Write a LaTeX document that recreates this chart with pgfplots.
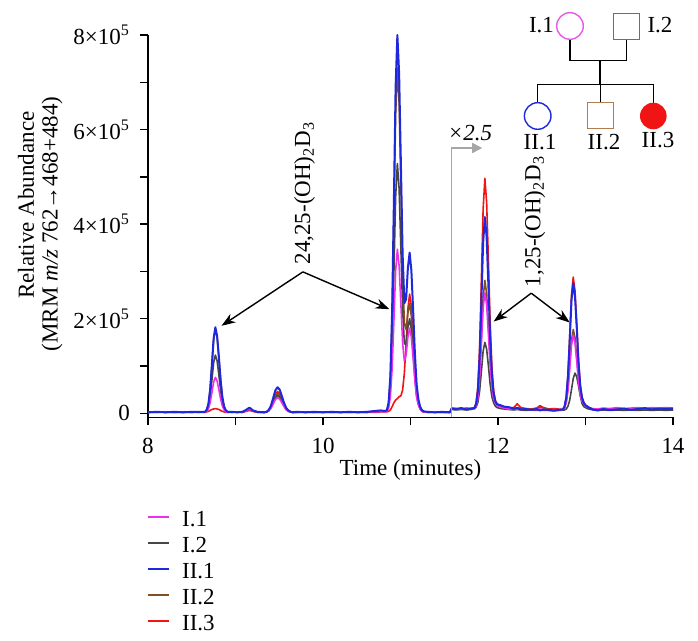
\documentclass[border=0pt]{standalone}
\usepackage{fontspec}
\setmainfont{Liberation Serif}
\usepackage{pgfplots}
\pgfplotsset{compat=1.18}
\usetikzlibrary{arrows.meta}
\definecolor{cI1}{RGB}{235,50,235}
\definecolor{cI2}{RGB}{70,70,70}
\definecolor{cII1}{RGB}{30,40,220}
\definecolor{cII2}{RGB}{130,80,35}
\definecolor{cII3}{RGB}{240,20,20}
\definecolor{cI1p}{RGB}{230,90,230}
\definecolor{cI2p}{RGB}{110,110,110}
\definecolor{cII2p}{RGB}{175,125,80}
\begin{document}
\fontsize{11.5}{14}\selectfont
\begin{tikzpicture}
\begin{axis}[
  at={(74pt,111.85pt)}, anchor=south west,
  scale only axis, width=262.5pt, height=191.15pt,
  xmin=8, xmax=14, ymin=-0.085, ymax=8,
  axis x line*=bottom, axis y line*=left,
  axis line style={line width=0.65pt},
  tick align=outside, major tick length=4pt, minor tick length=4pt,
  every tick/.style={line width=0.65pt, black},
  xtick={8,10,12,14}, minor xtick={9,11,13},
  ytick={0,2,4,6,8}, minor ytick={1,3,5,7},
  yticklabels={0,2×10\textsuperscript{5},4×10\textsuperscript{5},6×10\textsuperscript{5},8×10\textsuperscript{5}},
  xticklabel style={yshift=-2.5pt},
  yticklabel style={xshift=-1pt},
  /pgf/number format/assume math mode=true,
  clip=false,
  xlabel={Time (minutes)},
  xlabel style={at={(axis description cs:0.5,-0.153)}, anchor=base},
  ylabel={Relative Abundance},
  ylabel style={at={(axis description cs:-0.2324,0.5553)}, anchor=center},
  legend style={at={(-0.002,-0.234)}, anchor=north west, draw=none, fill=none,
    inner sep=0pt, row sep=0pt, column sep=6pt,
    nodes={inner sep=0pt, text height=9.5pt, text depth=3.5pt}},
  legend cell align=left,
  legend image code/.code={\draw[#1] (0pt,1.5pt) -- (10.5pt,1.5pt);},
]
\addlegendimage{cI1, line width=0.9pt}\addlegendentry{I.1}
\addlegendimage{cI2, line width=0.9pt}\addlegendentry{I.2}
\addlegendimage{cII1, line width=0.9pt}\addlegendentry{II.1}
\addlegendimage{cII2, line width=0.9pt}\addlegendentry{II.2}
\addlegendimage{cII3, line width=0.9pt}\addlegendentry{II.3}

% II.3 (red)
\addplot[cII3, line width=0.8pt, line join=round, forget plot] coordinates {
(8.00,0.02)(8.10,0.03)(8.20,0.02)(8.30,0.02)(8.40,0.03)(8.50,0.02)(8.58,0.02)
(8.65,0.02)(8.67,0.03)(8.69,0.04)(8.71,0.06)(8.73,0.08)(8.75,0.09)(8.77,0.10)(8.79,0.09)(8.81,0.08)(8.83,0.06)(8.85,0.04)(8.87,0.03)(8.89,0.02)(8.91,0.02)
(8.96,0.02)(9.02,0.03)(9.08,0.02)(9.12,0.04)(9.16,0.06)(9.20,0.04)(9.25,0.02)
(9.33,0.02)(9.355,0.03)(9.38,0.06)(9.405,0.14)(9.43,0.27)(9.455,0.40)(9.48,0.46)(9.505,0.42)(9.53,0.31)(9.555,0.19)(9.58,0.10)(9.605,0.05)(9.63,0.03)(9.655,0.02)
(9.70,0.02)(9.80,0.03)(9.90,0.02)(10.00,0.02)(10.10,0.03)(10.20,0.02)(10.30,0.02)(10.40,0.03)(10.50,0.02)(10.60,0.02)(10.66,0.03)(10.70,0.03)
(10.73,0.03)(10.75,0.04)(10.77,0.07)(10.79,0.14)(10.81,0.22)(10.83,0.28)(10.85,0.31)(10.87,0.35)(10.89,0.37)(10.91,0.49)(10.93,0.85)(10.95,1.49)(10.97,2.21)(10.99,2.52)(11.01,2.26)(11.03,1.64)(11.05,0.97)(11.07,0.46)(11.09,0.22)(11.11,0.11)(11.13,0.06)(11.15,0.03)
(11.20,0.02)(11.28,0.02)(11.36,0.03)(11.45,0.02)(11.47,0.11)(11.52,0.10)(11.58,0.09)(11.64,0.11)(11.69,0.10)
(11.73,0.11)(11.75,0.22)(11.77,0.56)(11.79,1.40)(11.81,2.81)(11.83,4.31)(11.85,4.97)(11.87,4.47)(11.89,3.26)(11.91,1.94)(11.93,0.98)(11.95,0.48)(11.97,0.27)(11.99,0.19)
(12.03,0.16)(12.07,0.13)(12.12,0.11)(12.18,0.12)(12.22,0.20)(12.26,0.12)(12.32,0.10)(12.38,0.09)(12.44,0.11)(12.48,0.16)(12.52,0.12)(12.58,0.09)(12.64,0.10)(12.69,0.09)
(12.74,0.08)(12.76,0.14)(12.78,0.34)(12.80,0.82)(12.82,1.64)(12.84,2.50)(12.86,2.88)(12.88,2.59)(12.90,1.89)(12.92,1.13)(12.94,0.61)(12.96,0.34)(12.98,0.23)(13.00,0.17)
(13.04,0.11)(13.08,0.09)(13.14,0.08)(13.20,0.10)(13.28,0.08)(13.36,0.11)(13.44,0.09)(13.52,0.08)(13.60,0.10)(13.68,0.09)(13.76,0.10)(13.84,0.08)(13.92,0.11)(14.00,0.09)
};
% II.2 (brown)
\addplot[cII2, line width=0.8pt, line join=round, forget plot] coordinates {
(8.00,0.02)(8.10,0.02)(8.20,0.03)(8.30,0.02)(8.40,0.03)(8.50,0.02)(8.58,0.03)
(8.65,0.03)(8.67,0.07)(8.69,0.19)(8.71,0.49)(8.73,1.00)(8.75,1.55)(8.77,1.79)(8.79,1.61)(8.81,1.17)(8.83,0.69)(8.85,0.33)(8.87,0.14)(8.89,0.06)(8.91,0.03)
(8.96,0.03)(9.02,0.02)(9.08,0.03)(9.12,0.06)(9.16,0.10)(9.20,0.05)(9.25,0.03)
(9.33,0.02)(9.355,0.03)(9.38,0.06)(9.405,0.13)(9.43,0.24)(9.455,0.37)(9.48,0.42)(9.505,0.38)(9.53,0.28)(9.555,0.17)(9.58,0.09)(9.605,0.05)(9.63,0.03)(9.655,0.02)
(9.70,0.02)(9.80,0.03)(9.90,0.02)(10.00,0.03)(10.10,0.02)(10.20,0.03)(10.30,0.02)(10.40,0.03)(10.50,0.02)(10.60,0.04)(10.66,0.05)(10.70,0.04)
(10.73,0.06)(10.75,0.21)(10.77,0.73)(10.79,1.97)(10.81,4.08)(10.83,6.31)(10.85,7.30)(10.87,6.56)(10.89,4.80)(10.91,2.99)(10.93,1.91)(10.95,1.77)(10.97,2.12)(10.99,2.32)(11.01,2.05)(11.03,1.49)(11.05,0.87)(11.07,0.42)(11.09,0.21)(11.11,0.10)(11.13,0.05)(11.15,0.03)
(11.20,0.02)(11.28,0.03)(11.36,0.02)(11.45,0.02)(11.47,0.09)(11.52,0.10)(11.58,0.09)(11.64,0.10)(11.69,0.09)
(11.73,0.10)(11.75,0.16)(11.77,0.35)(11.79,0.82)(11.81,1.61)(11.83,2.44)(11.85,2.81)(11.87,2.53)(11.89,1.85)(11.91,1.12)(11.93,0.60)(11.95,0.33)(11.97,0.22)(11.99,0.17)
(12.03,0.14)(12.07,0.12)(12.12,0.10)(12.18,0.09)(12.22,0.12)(12.26,0.10)(12.32,0.09)(12.38,0.08)(12.44,0.10)(12.48,0.13)(12.52,0.11)(12.58,0.08)(12.64,0.07)(12.69,0.07)
(12.74,0.08)(12.76,0.11)(12.78,0.24)(12.80,0.53)(12.82,1.02)(12.84,1.54)(12.86,1.77)(12.88,1.60)(12.90,1.17)(12.92,0.71)(12.94,0.41)(12.96,0.26)(12.98,0.20)(13.00,0.16)
(13.04,0.12)(13.08,0.09)(13.14,0.07)(13.20,0.08)(13.28,0.09)(13.36,0.07)(13.44,0.08)(13.52,0.09)(13.60,0.07)(13.68,0.08)(13.76,0.09)(13.84,0.07)(13.92,0.08)(14.00,0.08)
};
% I.2 (grey)
\addplot[cI2, line width=0.8pt, line join=round, forget plot] coordinates {
(8.00,0.03)(8.10,0.02)(8.20,0.03)(8.30,0.02)(8.40,0.02)(8.50,0.03)(8.58,0.02)
(8.65,0.03)(8.67,0.05)(8.69,0.14)(8.71,0.34)(8.73,0.69)(8.75,1.07)(8.77,1.23)(8.79,1.11)(8.81,0.81)(8.83,0.48)(8.85,0.23)(8.87,0.10)(8.89,0.04)(8.91,0.03)
(8.96,0.02)(9.02,0.03)(9.08,0.02)(9.12,0.06)(9.16,0.10)(9.20,0.05)(9.25,0.02)
(9.33,0.02)(9.355,0.03)(9.38,0.05)(9.405,0.12)(9.43,0.22)(9.455,0.33)(9.48,0.38)(9.505,0.34)(9.53,0.25)(9.555,0.16)(9.58,0.08)(9.605,0.04)(9.63,0.03)(9.655,0.02)
(9.70,0.03)(9.80,0.02)(9.90,0.02)(10.00,0.03)(10.10,0.02)(10.20,0.02)(10.30,0.03)(10.40,0.02)(10.50,0.02)(10.60,0.04)(10.66,0.04)(10.70,0.04)
(10.73,0.05)(10.75,0.16)(10.77,0.53)(10.79,1.43)(10.81,2.95)(10.83,4.57)(10.85,5.28)(10.87,4.75)(10.89,3.49)(10.91,2.20)(10.93,1.47)(10.95,1.46)(10.97,1.81)(10.99,2.00)(11.01,1.77)(11.03,1.29)(11.05,0.76)(11.07,0.37)(11.09,0.19)(11.11,0.09)(11.13,0.05)(11.15,0.03)
(11.20,0.03)(11.28,0.02)(11.36,0.02)(11.45,0.02)(11.47,0.08)(11.52,0.07)(11.58,0.08)(11.64,0.07)(11.69,0.08)
(11.73,0.10)(11.75,0.13)(11.77,0.23)(11.79,0.47)(11.81,0.88)(11.83,1.31)(11.85,1.50)(11.87,1.36)(11.89,1.01)(11.91,0.62)(11.93,0.35)(11.95,0.22)(11.97,0.15)(11.99,0.12)
(12.03,0.10)(12.07,0.09)(12.12,0.08)(12.18,0.07)(12.22,0.08)(12.26,0.07)(12.32,0.06)(12.38,0.07)(12.44,0.06)(12.48,0.07)(12.52,0.06)(12.58,0.06)(12.64,0.05)(12.69,0.06)
(12.76,0.07)(12.78,0.09)(12.80,0.15)(12.82,0.28)(12.84,0.50)(12.86,0.74)(12.88,0.85)(12.90,0.77)(12.92,0.58)(12.94,0.37)(12.96,0.21)(12.98,0.14)(13.00,0.12)(13.02,0.10)
(13.06,0.08)(13.10,0.07)(13.14,0.06)(13.20,0.07)(13.28,0.06)(13.36,0.07)(13.44,0.06)(13.52,0.07)(13.60,0.06)(13.68,0.07)(13.76,0.06)(13.84,0.07)(13.92,0.06)(14.00,0.07)
};
% I.1 (magenta)
\addplot[cI1, line width=0.8pt, line join=round, forget plot] coordinates {
(8.00,0.02)(8.10,0.03)(8.20,0.02)(8.30,0.03)(8.40,0.02)(8.50,0.02)(8.58,0.03)
(8.65,0.02)(8.67,0.04)(8.69,0.09)(8.71,0.22)(8.73,0.43)(8.75,0.66)(8.77,0.76)(8.79,0.68)(8.81,0.50)(8.83,0.30)(8.85,0.15)(8.87,0.07)(8.89,0.03)(8.91,0.02)
(8.96,0.03)(9.02,0.02)(9.08,0.03)(9.12,0.05)(9.16,0.09)(9.20,0.05)(9.25,0.03)
(9.33,0.02)(9.355,0.03)(9.38,0.05)(9.405,0.10)(9.43,0.19)(9.455,0.29)(9.48,0.33)(9.505,0.30)(9.53,0.22)(9.555,0.14)(9.58,0.07)(9.605,0.04)(9.63,0.03)(9.655,0.02)
(9.70,0.02)(9.80,0.02)(9.90,0.03)(10.00,0.02)(10.10,0.02)(10.20,0.03)(10.30,0.02)(10.40,0.02)(10.50,0.03)(10.60,0.03)(10.66,0.04)(10.70,0.03)
(10.73,0.04)(10.75,0.11)(10.77,0.35)(10.79,0.94)(10.81,1.94)(10.83,3.00)(10.85,3.47)(10.87,3.12)(10.89,2.31)(10.91,1.49)(10.93,1.10)(10.95,1.23)(10.97,1.61)(10.99,1.80)(11.01,1.60)(11.03,1.16)(11.05,0.69)(11.07,0.33)(11.09,0.18)(11.11,0.09)(11.13,0.05)(11.15,0.03)
(11.20,0.02)(11.28,0.03)(11.36,0.02)(11.45,0.02)(11.47,0.10)(11.52,0.09)(11.58,0.10)(11.64,0.09)(11.69,0.10)
(11.73,0.10)(11.75,0.15)(11.77,0.33)(11.79,0.75)(11.81,1.46)(11.83,2.22)(11.85,2.55)(11.87,2.30)(11.89,1.69)(11.91,1.02)(11.93,0.55)(11.95,0.31)(11.97,0.21)(11.99,0.16)
(12.03,0.13)(12.07,0.11)(12.12,0.09)(12.18,0.10)(12.22,0.09)(12.26,0.08)(12.32,0.09)(12.38,0.07)(12.44,0.08)(12.48,0.09)(12.52,0.08)(12.58,0.07)(12.64,0.08)(12.69,0.07)
(12.74,0.08)(12.76,0.11)(12.78,0.22)(12.80,0.49)(12.82,0.95)(12.84,1.44)(12.86,1.65)(12.88,1.49)(12.90,1.10)(12.92,0.67)(12.94,0.39)(12.96,0.26)(12.98,0.20)(13.00,0.15)
(13.04,0.12)(13.08,0.10)(13.14,0.09)(13.20,0.11)(13.28,0.10)(13.36,0.12)(13.44,0.10)(13.52,0.11)(13.60,0.12)(13.68,0.10)(13.76,0.12)(13.84,0.11)(13.92,0.12)(14.00,0.11)
};
% II.1 (blue)
\addplot[cII1, line width=1pt, line join=round, forget plot] coordinates {
(8.00,0.02)(8.10,0.03)(8.20,0.02)(8.30,0.03)(8.40,0.02)(8.50,0.03)(8.58,0.03)
(8.65,0.03)(8.67,0.07)(8.69,0.19)(8.71,0.50)(8.73,1.02)(8.75,1.58)(8.77,1.82)(8.79,1.63)(8.81,1.19)(8.83,0.70)(8.85,0.34)(8.87,0.14)(8.89,0.06)(8.91,0.03)
(8.96,0.03)(9.02,0.02)(9.08,0.03)(9.12,0.07)(9.16,0.12)(9.20,0.06)(9.25,0.03)
(9.33,0.02)(9.355,0.03)(9.38,0.07)(9.405,0.16)(9.43,0.32)(9.455,0.48)(9.48,0.55)(9.505,0.50)(9.53,0.36)(9.555,0.22)(9.58,0.11)(9.605,0.06)(9.63,0.03)(9.655,0.02)
(9.70,0.03)(9.80,0.02)(9.90,0.03)(10.00,0.02)(10.10,0.03)(10.20,0.02)(10.30,0.03)(10.40,0.02)(10.50,0.03)(10.60,0.05)(10.66,0.06)(10.70,0.05)
(10.73,0.06)(10.75,0.23)(10.77,0.79)(10.79,2.16)(10.81,4.46)(10.83,6.91)(10.85,8.00)(10.87,7.19)(10.89,5.29)(10.91,3.36)(10.93,2.33)(10.95,2.41)(10.97,3.07)(10.99,3.40)(11.01,3.02)(11.03,2.19)(11.05,1.28)(11.07,0.61)(11.09,0.30)(11.11,0.14)(11.13,0.07)(11.15,0.04)
(11.20,0.03)(11.28,0.02)(11.36,0.03)(11.45,0.02)(11.47,0.10)(11.52,0.09)(11.58,0.11)(11.64,0.08)(11.69,0.10)
(11.73,0.11)(11.75,0.20)(11.77,0.48)(11.79,1.18)(11.81,2.35)(11.83,3.60)(11.85,4.15)(11.87,3.73)(11.89,2.72)(11.91,1.62)(11.93,0.84)(11.95,0.42)(11.97,0.25)(11.99,0.19)
(12.03,0.17)(12.07,0.14)(12.12,0.13)(12.18,0.10)(12.22,0.11)(12.26,0.08)(12.32,0.09)(12.38,0.07)(12.44,0.09)(12.48,0.06)(12.52,0.08)(12.58,0.07)(12.64,0.06)(12.69,0.07)
(12.74,0.08)(12.76,0.14)(12.78,0.33)(12.80,0.79)(12.82,1.56)(12.84,2.39)(12.86,2.75)(12.88,2.47)(12.90,1.81)(12.92,1.08)(12.94,0.58)(12.96,0.33)(12.98,0.22)(13.00,0.17)
(13.04,0.12)(13.08,0.08)(13.14,0.06)(13.20,0.09)(13.28,0.07)(13.36,0.08)(13.44,0.10)(13.52,0.07)(13.60,0.09)(13.68,0.11)(13.76,0.08)(13.84,0.10)(13.92,0.09)(14.00,0.10)
};

% second line of the y label
\node[rotate=90] at (axis description cs:-0.1829,0.5056) {(MRM \textit{m/z} 762→468+484)};

% x2.5 marker
\draw[black!35, line width=0.8pt, -{Triangle[length=5pt,width=5pt]}]
  (axis cs:11.47,-0.085) -- (axis cs:11.47,5.61) -- (axis cs:11.82,5.61);
\node at (axis cs:11.68,5.93) {\textit{×2.5}};

% annotations
\node[rotate=90, anchor=west, inner sep=0pt] at (axis cs:9.79,3.14) {24,25-(OH)\textsubscript{2}D\textsubscript{3}};
\draw[line width=0.7pt, -{Stealth[length=7pt,width=5pt]}] (axis cs:9.77,2.99) -- (axis cs:8.84,1.85);
\draw[line width=0.7pt, -{Stealth[length=7pt,width=5pt]}] (axis cs:9.77,2.99) -- (axis cs:10.76,2.20);
\node[rotate=90, anchor=west, inner sep=0pt] at (axis cs:12.42,2.66) {1,25-(OH)\textsubscript{2}D\textsubscript{3}};
\draw[line width=0.7pt, -{Stealth[length=7pt,width=5pt]}] (axis cs:12.38,2.54) -- (axis cs:11.95,1.94);
\draw[line width=0.7pt, -{Stealth[length=7pt,width=5pt]}] (axis cs:12.38,2.54) -- (axis cs:12.82,1.92);
\end{axis}

% pedigree (pixel coordinates of the reference)
\begin{scope}[x=0.5pt, y=-0.5pt, yshift=320.5pt]
\draw[line width=0.75pt] (570,39.3) -- (570,60.7) -- (626.3,60.7) -- (626.3,39.3);
\draw[line width=0.75pt] (600,60.7) -- (600,84.3);
\draw[line width=0.75pt] (537.7,102.7) -- (537.7,84.3) -- (653.3,84.3) -- (653.3,102.7);
\draw[line width=0.75pt] (600.3,84.3) -- (600.3,102.8);
\draw[cI1p, line width=0.7pt] (570,26) circle[radius=6.65pt];
\draw[cI2p, line width=0.7pt] (613.3,13.3) rectangle (639.3,39.3);
\draw[cII1, line width=0.7pt] (537.7,116) circle[radius=6.65pt];
\draw[cII2p, line width=0.7pt] (587.3,102.8) rectangle (613.3,128.8);
\fill[cII3] (653.3,116) circle[radius=6.65pt];
\node at (541.5,25) {I.1};
\node at (660,25) {I.2};
\node at (540,142) {II.1};
\node at (604,142) {II.2};
\node at (658,140) {II.3};
\end{scope}

\pgfresetboundingbox
\path[use as bounding box] (0,0) rectangle (349pt,320.5pt);
\end{tikzpicture}
\end{document}
